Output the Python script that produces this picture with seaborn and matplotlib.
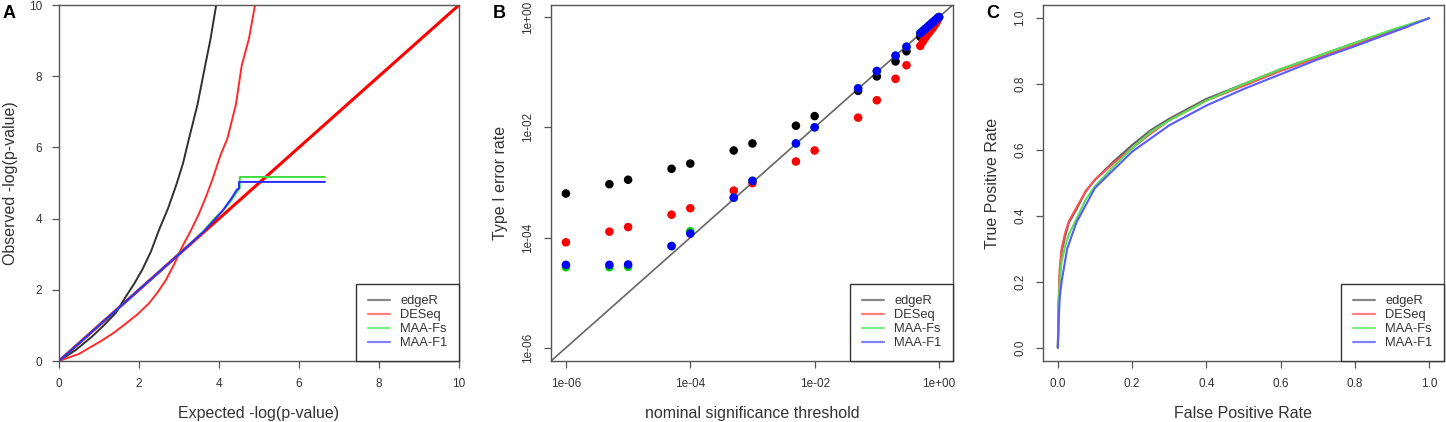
import numpy as np
import pandas as pd
import seaborn as sns
import matplotlib
matplotlib.use("Agg")
import matplotlib.pyplot as plt
from matplotlib.lines import Line2D

methods = ["edgeR", "DESeq", "MAA-Fs", "MAA-F1"]

# --- panel A: QQ plot of -log(p) ---
qq_edger_x = [0, 0.42, 0.83, 1.12, 1.42, 1.67, 1.88, 2.08, 2.3, 2.5, 2.72, 2.93, 3.1, 3.25, 3.46, 3.625, 3.79, 3.93]
qq_edger_y = [0, 0.31, 0.69, 1.0, 1.35, 1.81, 2.17, 2.56, 3.08, 3.68, 4.27, 4.94, 5.55, 6.25, 7.19, 8.13, 9.06, 10]
qq_deseq_x = [0, 0.5, 1.08, 1.38, 1.67, 1.96, 2.25, 2.46, 2.67, 2.88, 3.08, 3.3, 3.5, 3.67, 3.83, 4.04, 4.21,
              4.42, 4.57, 4.75, 4.9]
qq_deseq_y = [0, 0.2, 0.58, 0.8, 1.05, 1.31, 1.62, 1.92, 2.27, 2.72, 3.21, 3.67, 4.14, 4.6, 5.08, 5.79, 6.25,
              7.19, 8.31, 9.06, 10]
qq_fs_x = [0, 3.0, 3.6, 3.9, 4.1, 4.3, 4.45, 4.52, 4.52, 6.65]
qq_fs_y = [0, 3.0, 3.63, 4.02, 4.22, 4.5, 4.75, 4.85, 5.17, 5.17]
qq_f1_x = [0, 3.0, 3.6, 3.9, 4.1, 4.3, 4.45, 4.5, 4.5, 6.65]
qq_f1_y = [0, 3.0, 3.62, 3.98, 4.24, 4.55, 4.82, 4.85, 5.03, 5.03]

# --- panel B: type I error vs nominal threshold ---
thresholds = [1e-6, 5e-6, 1e-5, 5e-5, 1e-4, 5e-4, 1e-3, 5e-3, 1e-2, 5e-2, 0.1, 0.2, 0.3,
              0.5, 0.55, 0.6, 0.65, 0.7, 0.75, 0.8, 0.85, 0.9, 0.95, 1.0]
err_edger = [6.3e-4, 9.3e-4, 1.12e-3, 1.77e-3, 2.2e-3, 3.8e-3, 5.1e-3, 1.07e-2, 1.6e-2, 4.6e-2, 0.084, 0.157, 0.24,
             0.44, 0.50, 0.56, 0.62, 0.67, 0.73, 0.78, 0.84, 0.89, 0.95, 1.0]
err_deseq = [8.2e-5, 1.28e-4, 1.55e-4, 2.6e-4, 3.4e-4, 7.1e-4, 9.7e-4, 2.4e-3, 3.8e-3, 1.5e-2, 0.031, 0.076, 0.134,
             0.30, 0.36, 0.42, 0.48, 0.53, 0.59, 0.65, 0.72, 0.79, 0.88, 1.0]
err_fs = [2.9e-5, 2.9e-5, 2.95e-5, 7.0e-5, 1.3e-4, 5.3e-4, 1.07e-3, 5.1e-3, 1.0e-2, 0.051, 0.105, 0.20, 0.29,
          0.51, 0.56, 0.61, 0.66, 0.71, 0.76, 0.81, 0.86, 0.91, 0.96, 1.0]
err_f1 = [3.2e-5, 3.2e-5, 3.25e-5, 7.0e-5, 1.18e-4, 5.3e-4, 1.07e-3, 5.1e-3, 1.0e-2, 0.051, 0.105, 0.20, 0.29,
          0.51, 0.56, 0.61, 0.66, 0.71, 0.76, 0.81, 0.86, 0.91, 0.96, 1.0]

# --- panel C: ROC curves ---
roc_edger_fpr = [0, 0.002, 0.005, 0.01, 0.02, 0.03, 0.05, 0.075, 0.1, 0.15, 0.2, 0.25, 0.3, 0.4, 0.5, 0.6, 0.7, 0.8, 0.9, 1.0]
roc_edger_tpr = [0, 0.12, 0.22, 0.29, 0.34, 0.38, 0.42, 0.475, 0.51, 0.565, 0.615, 0.66, 0.695, 0.755, 0.80, 0.845, 0.885, 0.925, 0.962, 1.0]
roc_deseq_fpr = [0, 0.002, 0.005, 0.01, 0.02, 0.03, 0.05, 0.075, 0.1, 0.15, 0.2, 0.25, 0.3, 0.4, 0.5, 0.6, 0.7, 0.8, 0.945]
roc_deseq_tpr = [0, 0.14, 0.24, 0.30, 0.35, 0.385, 0.425, 0.475, 0.51, 0.56, 0.605, 0.65, 0.69, 0.75, 0.795, 0.84, 0.88, 0.92, 0.975]
roc_fs_fpr = [0, 0.002, 0.005, 0.01, 0.02, 0.03, 0.05, 0.075, 0.1, 0.15, 0.2, 0.25, 0.3, 0.4, 0.5, 0.6, 0.7, 0.8, 0.9, 1.0]
roc_fs_tpr = [0, 0.11, 0.2, 0.26, 0.31, 0.345, 0.39, 0.45, 0.49, 0.55, 0.605, 0.655, 0.69, 0.75, 0.80, 0.845, 0.885, 0.925, 0.965, 1.0]
roc_f1_fpr = [0, 0.002, 0.005, 0.01, 0.025, 0.05, 0.1, 0.2, 0.3, 0.4, 0.5, 0.6, 0.7, 0.8, 0.9, 1.0]
roc_f1_tpr = [0, 0.08, 0.15, 0.2, 0.3, 0.38, 0.485, 0.595, 0.675, 0.735, 0.785, 0.83, 0.875, 0.915, 0.957, 1.0]

line_cols = {"edgeR": "#303030", "DESeq": "#ff2a2a", "MAA-Fs": "#3ddc3d", "MAA-F1": "#2b2bff"}
dot_cols = {"edgeR": "#000000", "DESeq": "#ff0000", "MAA-Fs": "#00cc00", "MAA-F1": "#0000ff"}
roc_cols = {"edgeR": "#606060", "DESeq": "#ff5050", "MAA-Fs": "#55e055", "MAA-F1": "#5a5aff"}
leg_cols = ["#8a8a8a", "#ff8080", "#80ee80", "#8080ff"]


def long_df(xs, ys, xname, yname):
    parts = []
    for m, x, y in zip(methods, xs, ys):
        parts.append(pd.DataFrame({xname: x, yname: y, "method": m}))
    return pd.concat(parts, ignore_index=True)


df_a = long_df([qq_edger_x, qq_deseq_x, qq_fs_x, qq_f1_x], [qq_edger_y, qq_deseq_y, qq_fs_y, qq_f1_y], "exp", "obs")
df_b = long_df([thresholds] * 4, [err_edger, err_deseq, err_fs, err_f1], "thr", "err")
df_c = long_df([roc_edger_fpr, roc_deseq_fpr, roc_fs_fpr, roc_f1_fpr],
               [roc_edger_tpr, roc_deseq_tpr, roc_fs_tpr, roc_f1_tpr], "fpr", "tpr")

sns.set_style("white")
plt.rcParams["font.family"] = ["Liberation Sans", "DejaVu Sans"]
plt.rcParams["axes.edgecolor"] = "#555555"
plt.rcParams["text.color"] = "#333333"
plt.rcParams["axes.labelcolor"] = "#333333"
plt.rcParams["xtick.color"] = "#555555"
plt.rcParams["ytick.color"] = "#555555"
plt.rcParams["xtick.labelcolor"] = "#333333"
plt.rcParams["ytick.labelcolor"] = "#333333"

fig = plt.figure(figsize=(14.46, 4.22), dpi=100)
W, H = 1446.0, 422.0
bot = 1 - 361 / H
hgt = 356 / H
ax_a = fig.add_axes([59 / W, bot, 400 / W, hgt])
ax_b = fig.add_axes([551 / W, bot, 402 / W, hgt])
ax_c = fig.add_axes([1043 / W, bot, 401 / W, hgt])


def style_axes(ax):
    for s in ax.spines.values():
        s.set_visible(True)
        s.set_linewidth(1.0)
        s.set_color("#555555")
    ax.tick_params(axis="both", direction="out", length=5, width=0.9, labelsize=8.5, pad=7,
                   bottom=True, left=True)


def add_legend(ax):
    handles = [Line2D([0], [0], color=c, lw=1.6) for c in leg_cols]
    leg = ax.legend(handles, methods, loc="lower right", borderaxespad=0, fontsize=9.3,
                    handlelength=1.7, handletextpad=0.8, labelspacing=0.15, borderpad=0.9,
                    fancybox=False, framealpha=1)
    leg.get_frame().set_edgecolor("#333333")
    leg.get_frame().set_linewidth(1.0)


# Panel A
ax_a.axline((0, 0), slope=1, color="#ff0000", lw=2.2, zorder=1)
sns.lineplot(data=df_a, x="exp", y="obs", hue="method", hue_order=methods, palette=line_cols,
             sort=False, estimator=None, lw=1.4, legend=False, ax=ax_a)
ax_a.set_xlim(0, 10)
ax_a.set_ylim(0, 10)
ax_a.set_xticks([0, 2, 4, 6, 8, 10])
ax_a.set_yticks([0, 2, 4, 6, 8, 10])
style_axes(ax_a)
ax_a.set_xlabel("Expected -log(p-value)", fontsize=11.5, labelpad=12)
ax_a.set_ylabel("Observed -log(p-value)", fontsize=11.5, labelpad=8)
add_legend(ax_a)

# Panel B
ax_b.set_xscale("log")
ax_b.set_yscale("log")
ax_b.set_xlim(10 ** -6.24, 10 ** 0.225)
ax_b.set_ylim(10 ** -6.24, 10 ** 0.22)
ax_b.axline((1e-6, 1e-6), (1.0, 1.0), color="#666666", lw=1.2, zorder=1)
sns.scatterplot(data=df_b, x="thr", y="err", hue="method", hue_order=methods, palette=dot_cols,
                s=38, linewidth=0, legend=False, ax=ax_b, zorder=3)
log_ticks = [1e-6, 1e-4, 1e-2, 1.0]
log_labels = ["1e-06", "1e-04", "1e-02", "1e+00"]
ax_b.set_xticks(log_ticks, log_labels)
ax_b.set_yticks(log_ticks, log_labels)
ax_b.minorticks_off()
style_axes(ax_b)
for t in ax_b.get_yticklabels():
    t.set_rotation(90)
    t.set_va("center")
ax_b.set_xlabel("nominal significance threshold", fontsize=11.5, labelpad=12)
ax_b.set_ylabel("Type I error rate", fontsize=11.5, labelpad=10)
add_legend(ax_b)

# Panel C
sns.lineplot(data=df_c, x="fpr", y="tpr", hue="method", hue_order=methods, palette=roc_cols,
             sort=False, estimator=None, lw=1.5, legend=False, ax=ax_c)
ax_c.set_xlim(-0.04, 1.04)
ax_c.set_ylim(-0.04, 1.04)
ticks_c = [0.0, 0.2, 0.4, 0.6, 0.8, 1.0]
ax_c.set_xticks(ticks_c, [f"{t:.1f}" for t in ticks_c])
ax_c.set_yticks(ticks_c, [f"{t:.1f}" for t in ticks_c])
style_axes(ax_c)
for t in ax_c.get_yticklabels():
    t.set_rotation(90)
    t.set_va("center")
ax_c.set_xlabel("False Positive Rate", fontsize=11.5, labelpad=12)
ax_c.set_ylabel("True Positive Rate", fontsize=11.5, labelpad=10)
add_legend(ax_c)

for lab, x in zip(["A", "B", "C"], [3, 493, 986]):
    fig.text(x / W, 1 - 5 / H, lab, fontsize=13, fontweight="bold", color="black", va="top", ha="left")

fig.savefig("out.png", dpi=100)
